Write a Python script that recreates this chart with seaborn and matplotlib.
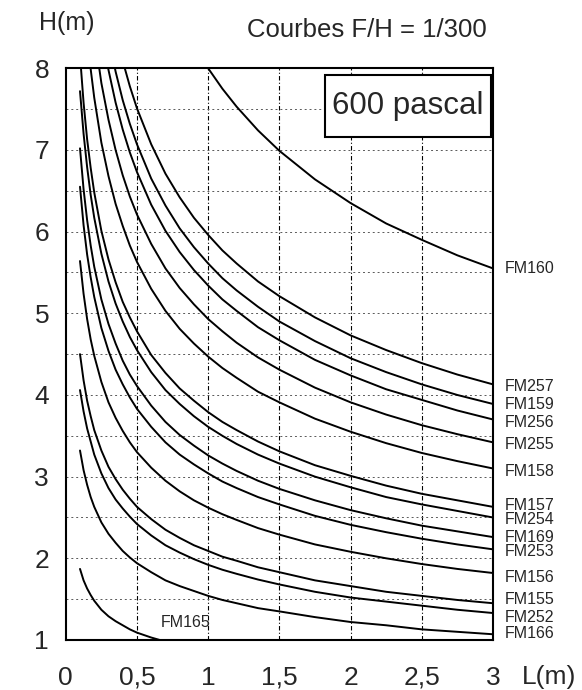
import numpy as np
import pandas as pd
import seaborn as sns
import matplotlib.pyplot as plt
from matplotlib.patches import Rectangle

nan = np.nan
L_m = [0.1, 0.125, 0.15, 0.175, 0.2, 0.25, 0.3, 0.35, 0.4, 0.45, 0.5, 0.6, 0.7,
       0.8, 0.9, 1.0, 1.1, 1.2, 1.35, 1.5, 1.75, 2.0, 2.25, 2.5, 2.75, 3.0]

FM160 = [nan, nan, nan, nan, nan, nan, nan, nan, nan, nan, nan, nan, nan,
         8.62, 8.29, 8.00, 7.75, 7.53, 7.24, 6.99, 6.64, 6.35, 6.10, 5.90, 5.71, 5.55]
FM257 = [nan, nan, nan, nan, nan, nan, nan, 8.46, 8.09, 7.78, 7.51, 7.07, 6.71,
         6.42, 6.17, 5.96, 5.77, 5.61, 5.39, 5.21, 4.95, 4.73, 4.55, 4.39, 4.25, 4.13]
FM159 = [nan, nan, nan, nan, nan, nan, 8.38, 7.96, 7.61, 7.32, 7.07, 6.65, 6.32,
         6.04, 5.81, 5.61, 5.43, 5.28, 5.08, 4.90, 4.66, 4.45, 4.28, 4.13, 4.00, 3.89]
FM256 = [nan, nan, nan, nan, nan, 8.47, 7.98, 7.58, 7.25, 6.97, 6.73, 6.33, 6.01,
         5.75, 5.53, 5.34, 5.17, 5.03, 4.83, 4.67, 4.43, 4.24, 4.07, 3.94, 3.81, 3.70]
FM255 = [nan, nan, nan, nan, 8.43, 7.82, 7.37, 7.00, 6.69, 6.43, 6.21, 5.85, 5.55,
         5.31, 5.11, 4.93, 4.78, 4.64, 4.46, 4.31, 4.09, 3.91, 3.76, 3.63, 3.52, 3.42]
FM158 = [nan, nan, 8.41, 7.99, 7.64, 7.09, 6.68, 6.34, 6.07, 5.83, 5.63, 5.30, 5.03,
         4.81, 4.63, 4.47, 4.33, 4.21, 4.04, 3.91, 3.71, 3.55, 3.41, 3.29, 3.19, 3.10]
FM157 = [8.16, 7.58, 7.13, 6.78, 6.48, 6.01, 5.66, 5.38, 5.14, 4.95, 4.78, 4.49, 4.27,
         4.08, 3.93, 3.79, 3.67, 3.57, 3.43, 3.31, 3.14, 3.01, 2.89, 2.79, 2.71, 2.63]
FM254 = [7.72, 7.20, 6.79, 6.45, 6.17, 5.73, 5.39, 5.12, 4.90, 4.71, 4.55, 4.28, 4.06,
         3.89, 3.74, 3.61, 3.50, 3.40, 3.27, 3.16, 3.00, 2.87, 2.75, 2.66, 2.58, 2.50]
FM169 = [7.02, 6.52, 6.14, 5.83, 5.57, 5.17, 4.87, 4.63, 4.42, 4.25, 4.11, 3.87, 3.67,
         3.51, 3.38, 3.26, 3.16, 3.07, 2.95, 2.85, 2.71, 2.59, 2.49, 2.40, 2.33, 2.26]
FM253 = [6.55, 6.08, 5.72, 5.44, 5.20, 4.82, 4.54, 4.31, 4.13, 3.97, 3.83, 3.61, 3.42,
         3.27, 3.15, 3.04, 2.94, 2.86, 2.75, 2.66, 2.52, 2.41, 2.32, 2.24, 2.17, 2.11]
FM156 = [5.64, 5.24, 4.93, 4.68, 4.48, 4.16, 3.91, 3.72, 3.56, 3.42, 3.30, 3.11, 2.95,
         2.82, 2.71, 2.62, 2.54, 2.47, 2.37, 2.29, 2.17, 2.08, 2.00, 1.93, 1.87, 1.82]
FM155 = [4.50, 4.18, 3.93, 3.74, 3.57, 3.32, 3.12, 2.97, 2.84, 2.73, 2.63, 2.48, 2.35,
         2.25, 2.16, 2.09, 2.02, 1.97, 1.89, 1.83, 1.73, 1.66, 1.59, 1.54, 1.49, 1.45]
FM252 = [4.06, 3.80, 3.59, 3.43, 3.27, 3.04, 2.86, 2.72, 2.61, 2.51, 2.42, 2.28, 2.16,
         2.07, 1.99, 1.92, 1.86, 1.81, 1.74, 1.68, 1.59, 1.52, 1.47, 1.42, 1.37, 1.33]
FM166 = [3.32, 3.08, 2.90, 2.75, 2.63, 2.44, 2.30, 2.19, 2.09, 2.01, 1.94, 1.83, 1.73,
         1.66, 1.60, 1.54, 1.49, 1.45, 1.39, 1.35, 1.28, 1.22, 1.18, 1.13, 1.10, 1.07]
FM165 = [1.87, 1.73, 1.63, 1.55, 1.48, 1.37, 1.29, 1.23, 1.18, 1.13, 1.09, 1.03, 0.98,
         nan, nan, nan, nan, nan, nan, nan, nan, nan, nan, nan, nan, nan]

profils = ['FM160', 'FM257', 'FM159', 'FM256', 'FM255', 'FM158', 'FM157', 'FM254',
           'FM169', 'FM253', 'FM156', 'FM155', 'FM252', 'FM166', 'FM165']
series = [FM160, FM257, FM159, FM256, FM255, FM158, FM157, FM254,
          FM169, FM253, FM156, FM155, FM252, FM166, FM165]

x_ticks = [0, 0.5, 1, 1.5, 2, 2.5, 3]
x_labels = ['0', '0,5', '1', '1,5', '2', '2,5', '3']
y_ticks = [1, 2, 3, 4, 5, 6, 7, 8]

# (2) tableau long pour seaborn
rows = []
for name, H in zip(profils, series):
    for l, h in zip(L_m, H):
        if not np.isnan(h):
            rows.append({'profil': name, 'L': l, 'H': h})
df = pd.DataFrame(rows)

# (3) figure
sns.set_style('white')
plt.rcParams['font.family'] = ['Liberation Sans', 'DejaVu Sans']

fig = plt.figure(figsize=(5.82, 6.9), dpi=100)
ax = fig.add_axes([0.113, 0.0725, 0.734, 0.8285])

# grille
for x in [0.5, 1, 1.5, 2, 2.5]:
    ax.axvline(x, color='black', lw=0.8, ls=(0, (4, 2, 1, 2)), zorder=1)
for y in np.arange(1.5, 8, 0.5):
    ax.axhline(y, color='0.35', lw=0.7, ls=(0, (2, 3)), zorder=1)

sns.lineplot(data=df, x='L', y='H', units='profil', estimator=None, sort=False,
             color='black', linewidth=1.4, ax=ax, zorder=3)

ax.set_xlim(0, 3)
ax.set_ylim(1, 8)
ax.set_xlabel('')
ax.set_ylabel('')
ax.set_xticks(x_ticks)
ax.set_xticklabels(x_labels)
ax.set_xticks(np.arange(0, 3.01, 0.1), minor=True)
ax.set_yticks(y_ticks)
ax.tick_params(axis='x', which='both', direction='inout', length=7, width=1.2,
               labelsize=19, pad=15)
ax.tick_params(axis='y', which='major', direction='out', length=3, width=1,
               labelsize=19, pad=9)
for s in ax.spines.values():
    s.set_visible(True)
    s.set_color('black')
    s.set_linewidth(1.5)

# étiquettes des courbes (à droite)
label_y = [5.55, 4.10, 3.88, 3.66, 3.39, 3.06, 2.65, 2.47, 2.26, 2.08, 1.77, 1.50, 1.28, 1.08]
for name, y in zip(profils[:-1], label_y):
    ax.text(3.08, y, name, fontsize=11.5, va='center', ha='left', clip_on=False)
ax.text(0.84, 1.22, 'FM165', fontsize=11.5, va='center', ha='center')

# titres
fig.text(0.115, 0.967, 'H(m)', fontsize=18, ha='center', va='center')
fig.text(0.63, 0.957, 'Courbes F/H = 1/300', fontsize=18.5, ha='center', va='center')
fig.text(0.943, 0.019, 'L(m)', fontsize=19, ha='center', va='center')

# cadre "600 pascal"
ax.add_patch(Rectangle((0.607, 0.879), 0.388, 0.109, transform=ax.transAxes,
                       facecolor='white', edgecolor='black', lw=1.5, zorder=5))
ax.text(0.801, 0.934, '600 pascal', transform=ax.transAxes, fontsize=22.5,
        ha='center', va='center', zorder=6)

fig.savefig('out.png', dpi=100)
